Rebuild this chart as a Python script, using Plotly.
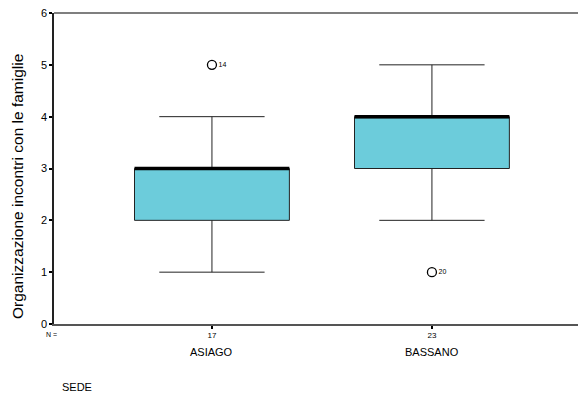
import plotly.graph_objects as go

# Summary statistics per sede
sedi = ["ASIAGO", "BASSANO"]
n_casi = ["17", "23"]
minimo = [1, 2]
q1 = [2, 3]
mediana = [3, 4]
q3 = [3, 4]
massimo = [4, 5]
outlier_val = [5, 1]
outlier_id = ["14", "20"]

pos = list(range(len(sedi)))
half = 0.352
fill = "#6CCCDB"
font = "Liberation Sans, Arial, sans-serif"

fig = go.Figure()

fig.add_trace(go.Box(
    x=pos, q1=q1, median=mediana, q3=q3,
    lowerfence=minimo, upperfence=massimo,
    width=2 * half, whiskerwidth=0.68,
    fillcolor=fill, line=dict(color="#222222", width=1),
    boxpoints=False, hoverinfo="skip", showlegend=False,
))

# thick median bars
for p, m in zip(pos, mediana):
    fig.add_trace(go.Scatter(
        x=[p - half, p + half], y=[m, m], mode="lines",
        line=dict(color="black", width=3.5), showlegend=False, hoverinfo="skip",
    ))

# outliers with case labels
fig.add_trace(go.Scatter(
    x=pos, y=outlier_val, mode="markers+text",
    marker=dict(symbol="circle-open", size=9, color="black", line=dict(width=1.3)),
    text=outlier_id, textposition="middle right",
    textfont=dict(family=font, size=7, color="black"),
    showlegend=False, hoverinfo="skip",
))

fig.update_layout(
    width=578, height=403,
    margin=dict(l=54, r=0, t=13, b=79, pad=0),
    paper_bgcolor="white", plot_bgcolor="white",
    font=dict(family=font, color="black"),
    xaxis=dict(
        range=[-0.718, 1.664], tickvals=pos, ticktext=n_casi,
        tickfont=dict(size=8), ticks="outside", ticklen=3, tickwidth=2,
        tickcolor="black", showline=True, linecolor="#555555", linewidth=1.5,
        showgrid=False, zeroline=False,
    ),
    yaxis=dict(
        range=[0, 6], tickvals=[0, 1, 2, 3, 4, 5, 6],
        tickfont=dict(size=11), ticks="outside", ticklen=3, tickwidth=2,
        tickcolor="black", showline=True, linecolor="#222222", linewidth=1.5,
        showgrid=False, zeroline=False,
    ),
)

# top frame line
fig.add_shape(type="line", xref="paper", yref="paper", x0=0, x1=1, y0=1, y1=1,
              line=dict(color="#555555", width=1.5))

# y-axis title
fig.add_annotation(x=0, y=(324 - 187) / 311, xref="paper", yref="paper", xshift=-37,
                   text="Organizzazione incontri con le famiglie", textangle=-90,
                   showarrow=False, font=dict(size=15.5), xanchor="center", yanchor="middle")

for p, s in zip(pos, sedi):
    fig.add_annotation(x=p, y=0, xref="x", yref="paper", yshift=-28, yanchor="middle",
                       text=s, showarrow=False, font=dict(size=11))

fig.add_annotation(x=0, y=0, xref="paper", yref="paper", xshift=-3, yshift=-10,
                   xanchor="center", yanchor="middle",
                   text="N =", showarrow=False, font=dict(size=7))
fig.add_annotation(x=6 / 524, y=-(387 - 324) / 311, xref="paper", yref="paper",
                   text="SEDE", showarrow=False, font=dict(size=11),
                   xanchor="left", yanchor="middle")

fig.write_html("out.html", config={"displayModeBar": False})
